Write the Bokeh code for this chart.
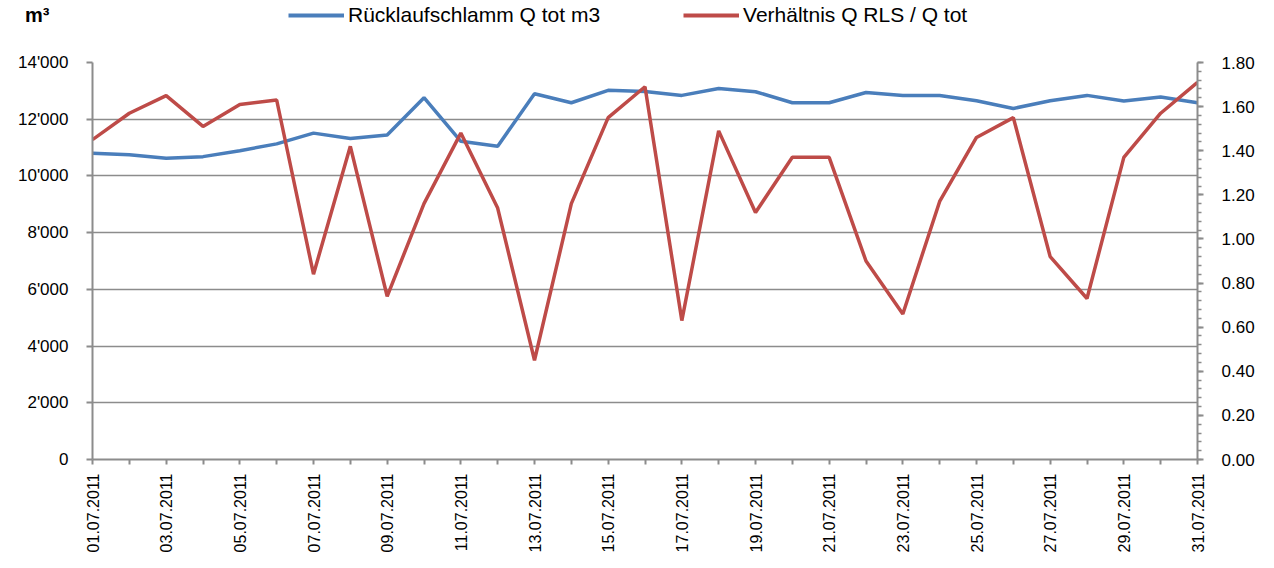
import math
from bokeh.plotting import figure
from bokeh.layouts import column
from bokeh.models import (LinearAxis, Range1d, FixedTicker, Legend, LegendItem,
                          NumeralTickFormatter, ColumnDataSource)
from bokeh.embed import file_html
from bokeh.resources import INLINE

# ---- data ----
dates = ["01.07.2011", "02.07.2011", "03.07.2011", "04.07.2011", "05.07.2011",
         "06.07.2011", "07.07.2011", "08.07.2011", "09.07.2011", "10.07.2011",
         "11.07.2011", "12.07.2011", "13.07.2011", "14.07.2011", "15.07.2011",
         "16.07.2011", "17.07.2011", "18.07.2011", "19.07.2011", "20.07.2011",
         "21.07.2011", "22.07.2011", "23.07.2011", "24.07.2011", "25.07.2011",
         "26.07.2011", "27.07.2011", "28.07.2011", "29.07.2011", "30.07.2011",
         "31.07.2011"]
q_tot = [10800, 10750, 10620, 10680, 10890, 11130, 11510, 11320, 11440, 12760,
         11220, 11050, 12900, 12580, 13020, 12980, 12840, 13080, 12970, 12580,
         12580, 12940, 12840, 12840, 12650, 12380, 12650, 12840, 12640, 12780,
         12580]
ratio = [1.45, 1.57, 1.65, 1.51, 1.61, 1.63, 0.84, 1.42, 0.74, 1.16,
         1.48, 1.14, 0.45, 1.16, 1.55, 1.69, 0.63, 1.49, 1.12, 1.37,
         1.37, 0.90, 0.66, 1.17, 1.46, 1.55, 0.92, 0.73, 1.37, 1.57,
         1.71]
left_ticks = [0, 2000, 4000, 6000, 8000, 10000, 12000, 14000]
left_labels = ["0", "2'000", "4'000", "6'000", "8'000", "10'000", "12'000", "14'000"]
right_ticks = [0.0, 0.2, 0.4, 0.6, 0.8, 1.0, 1.2, 1.4, 1.6, 1.8]
series_names = ["Rücklaufschlamm Q tot m3", "Verhältnis Q RLS / Q tot"]
unit_label = "m³"

idx = list(range(1, len(dates) + 1))
src = ColumnDataSource(dict(x=idx, q=q_tot, r=ratio, d=dates))

FONT = "Liberation Sans"
GRID = "#8C8C8C"
BLUE = "#4A7EBB"
RED = "#BE4B48"
TOTAL_W = 92 + 1105 + 69
NAN = float("nan")

# ---------------- main chart ----------------
p = figure(frame_width=1105, frame_height=397,
           min_border_left=92, min_border_right=69,
           min_border_top=10, min_border_bottom=101,
           x_range=Range1d(1, 31), y_range=Range1d(0, 14000),
           output_backend="svg", toolbar_location=None,
           background_fill_color="white", border_fill_color="white")
p.outline_line_color = None
p.extra_y_ranges = {"ratio": Range1d(0, 1.8)}

r1 = p.line("x", "q", source=src, line_color=BLUE, line_width=3.5)
r2 = p.line("x", "r", source=src, y_range_name="ratio", line_color=RED, line_width=3.5)

# x axis
xa = p.xaxis[0]
xa.ticker = FixedTicker(ticks=idx[::2], minor_ticks=idx[1::2])
xa.major_label_overrides = {i: d for i, d in zip(idx, dates)}
xa.major_label_orientation = math.pi / 2
xa.major_label_text_font = FONT
xa.major_label_text_font_size = "16px"
xa.major_label_text_color = "black"
xa.major_label_standoff = 9
xa.axis_line_color = GRID
xa.axis_line_width = 2
xa.major_tick_line_color = GRID
xa.minor_tick_line_color = GRID
xa.major_tick_line_width = 2
xa.minor_tick_line_width = 2
xa.major_tick_out = 5
xa.major_tick_in = 0
xa.minor_tick_out = 5
xa.minor_tick_in = 0

# left axis
ya = p.yaxis[0]
ya.ticker = FixedTicker(ticks=left_ticks, minor_ticks=[])
ya.major_label_overrides = {t: l for t, l in zip(left_ticks, left_labels)}
ya.major_label_text_font = FONT
ya.major_label_text_font_size = "17px"
ya.major_label_text_color = "black"
ya.major_label_standoff = 18
ya.axis_line_color = GRID
ya.axis_line_width = 2
ya.major_tick_line_color = GRID
ya.major_tick_line_width = 2
ya.major_tick_out = 6
ya.major_tick_in = 0

# right axis
ra = LinearAxis(y_range_name="ratio",
                ticker=FixedTicker(ticks=right_ticks,
                                   minor_ticks=[round(i * 0.04, 2) for i in range(46)]),
                formatter=NumeralTickFormatter(format="0.00"))
ra.major_label_text_font = FONT
ra.major_label_text_font_size = "17px"
ra.major_label_text_color = "black"
ra.major_label_standoff = 18
ra.axis_line_color = GRID
ra.axis_line_width = 2
ra.major_tick_line_color = GRID
ra.minor_tick_line_color = GRID
ra.major_tick_line_width = 2
ra.minor_tick_line_width = 1.5
ra.major_tick_out = 6
ra.major_tick_in = 0
ra.minor_tick_out = 4
ra.minor_tick_in = 0
p.add_layout(ra, "right")

# grid
p.xgrid.grid_line_color = None
p.ygrid.grid_line_color = GRID
p.ygrid.grid_line_width = 1.5
p.ygrid.ticker = FixedTicker(ticks=left_ticks)

# ---------------- header (legend + unit) ----------------
h = figure(frame_width=TOTAL_W, frame_height=52, min_border=0,
           x_range=Range1d(0, 1), y_range=Range1d(0, 1),
           x_axis_location=None, y_axis_location=None,
           output_backend="svg", toolbar_location=None,
           background_fill_color="white", border_fill_color="white")
h.outline_line_color = None
h.grid.visible = False
# legend keys only (no visible data)
k1 = h.line(x=[NAN], y=[NAN], line_color=BLUE, line_width=4)
k2 = h.line(x=[NAN], y=[NAN], line_color=RED, line_width=4)
k0 = h.line(x=[NAN], y=[NAN], line_alpha=0)

legend = Legend(items=[LegendItem(label=series_names[0], renderers=[k1]),
                       LegendItem(label=series_names[1], renderers=[k2])],
                orientation="horizontal", location=(288, 25),
                label_text_font=FONT, label_text_font_size="21px",
                label_text_color="black",
                glyph_width=56, glyph_height=20, label_height=20,
                label_standoff=4, spacing=83, padding=0, margin=0,
                border_line_color=None, background_fill_alpha=0)
h.add_layout(legend, "center")

unit = Legend(items=[LegendItem(label=unit_label, renderers=[k0])],
              location=(25, 25),
              label_text_font=FONT, label_text_font_size="20px",
              label_text_font_style="bold", label_text_color="black",
              glyph_width=0, glyph_height=20, label_height=20,
              label_standoff=0, padding=0, margin=0,
              border_line_color=None, background_fill_alpha=0)
h.add_layout(unit, "center")

layout = column(h, p, spacing=0)
open("out.html", "w").write(file_html(layout, INLINE))
